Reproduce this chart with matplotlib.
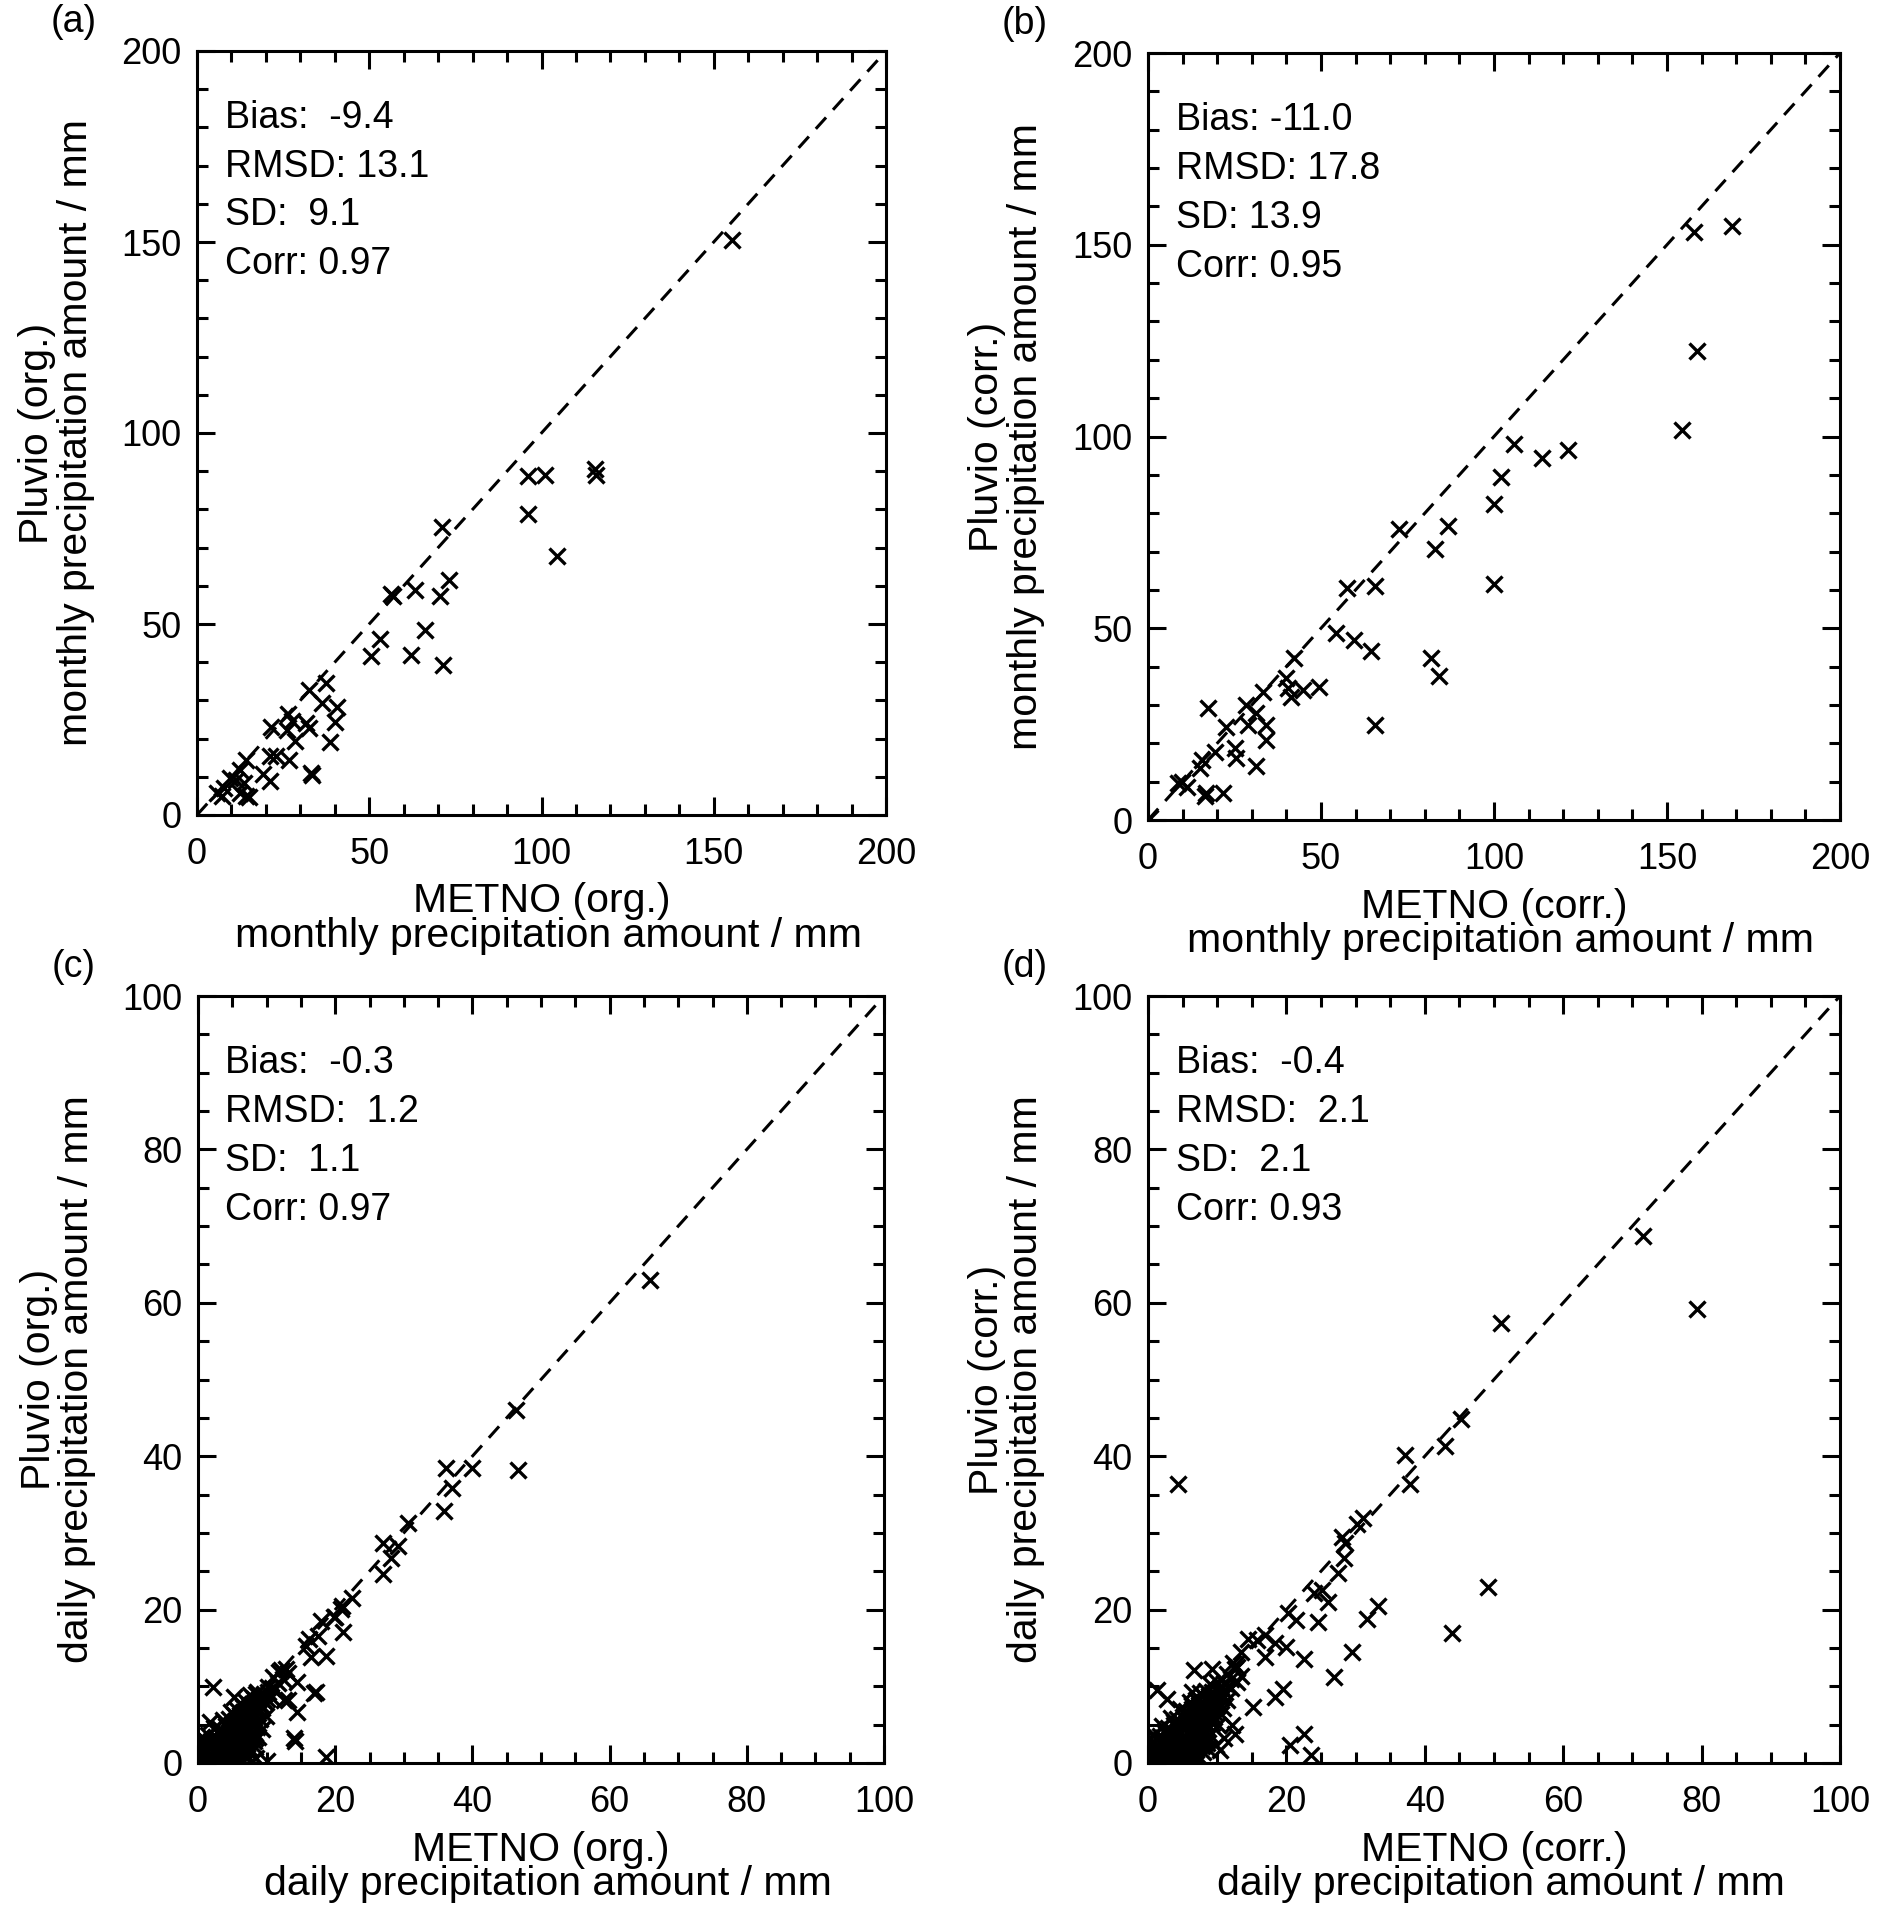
import numpy as np
import matplotlib.pyplot as plt
from matplotlib.ticker import MultipleLocator

plt.rcParams['font.family'] = ['Liberation Sans', 'DejaVu Sans']

# ---- data (METNO, Pluvio) ----
# (a) monthly, original
a_pts = [(155.4, 150.6), (115.5, 90.6), (115.8, 89.0), (96.2, 88.7), (101.1, 89.0),
         (96.2, 78.7), (104.5, 67.7), (71.1, 75.3), (73.1, 61.6), (70.4, 57.2),
         (63.4, 58.8), (56.3, 57.9), (56.8, 57.3), (66.3, 48.3), (62.1, 42.0),
         (71.4, 39.2), (53.2, 46.1), (50.5, 41.5), (37.4, 34.6), (32.5, 32.8),
         (36.2, 29.3), (40.6, 28.2), (40.1, 24.3), (38.6, 19.0), (31.5, 24.0),
         (32.5, 22.8), (26.5, 26.5), (27.7, 24.5), (26.2, 22.3), (28.4, 19.3),
         (21.4, 23.0), (21.2, 15.5), (22.8, 15.5), (26.7, 14.3), (33.0, 11.0),
         (33.4, 10.6), (19.2, 10.7), (21.2, 8.8), (14.1, 14.3), (12.6, 11.9),
         (9.5, 9.7), (11.2, 9.2), (7.8, 7.1), (13.6, 8.4), (7.3, 5.1),
         (14.1, 5.1), (15.0, 4.7), (12.6, 5.8), (5.8, 5.8)]

# (b) monthly, corrected
b_pts = [(157.8, 153.2), (168.8, 154.8), (158.6, 122.2), (154.3, 101.8), (105.7, 98.0),
         (113.8, 94.3), (121.5, 96.6), (101.9, 89.5), (99.9, 82.3), (99.9, 61.5),
         (72.4, 76.0), (86.7, 76.7), (82.9, 70.6), (57.6, 60.4), (65.7, 60.9),
         (54.3, 48.7), (59.5, 47.0), (64.5, 44.1), (81.8, 42.2), (84.2, 37.6),
         (65.6, 24.8), (42.3, 42.2), (39.9, 37.0), (41.3, 32.2), (40.4, 34.3),
         (44.7, 33.9), (49.5, 34.6), (33.2, 33.5), (28.4, 30.0), (28.9, 24.8),
         (31.3, 27.8), (34.2, 24.8), (34.2, 20.9), (31.3, 14.1), (25.1, 18.7),
         (25.5, 16.1), (17.4, 29.1), (22.5, 24.3), (19.3, 17.8), (15.5, 15.7),
         (15.0, 13.5), (9.8, 10.0), (8.8, 9.6), (11.2, 8.7), (16.9, 7.0),
         (21.7, 7.1), (16.4, 6.2), (0.5, 0.5)]

# (c) daily, original
c_pts = [(65.9, 63.0), (46.4, 46.0), (46.6, 38.2), (36.1, 38.4), (37.0, 35.8),
         (40.0, 38.4), (35.9, 32.9), (30.6, 31.3), (29.1, 28.3), (26.9, 28.7),
         (28.2, 26.7), (26.9, 24.7), (22.5, 21.5), (20.8, 20.1), (19.9, 19.1),
         (21.2, 17.1), (19.8, 19.0), (16.2, 16.2), (15.7, 15.3), (16.4, 13.8),
         (18.6, 14.0), (12.1, 12.1), (13.1, 11.7), (11.0, 11.2), (14.5, 10.6),
         (16.9, 9.1), (12.6, 8.2), (14.5, 6.7), (14.0, 3.2), (14.2, 2.9),
         (18.6, 0.8), (2.2, 9.9), (1.7, 5.4), (5.3, 8.6), (9.5, 8.2),
         (8.5, 9.0), (13.1, 8.2), (10.2, 9.9), (17.2, 9.3), (8.3, 2.1),
         (8.4, 0.7), (7.5, 1.6), (10.0, 0.3), (17.5, 16.5), (18.0, 18.5),
         (21.0, 20.5)]
# dense heap near the origin of (c), estimated
c_cluster = [(0.3, 0.2), (0.9, 0.4), (1.6, 0.3), (2.4, 0.5), (3.1, 0.2), (3.9, 0.4),
             (4.6, 0.3), (5.4, 0.5), (6.2, 0.2), (7.0, 0.6), (0.2, 1.3), (1.1, 1.4),
             (1.9, 1.2), (2.7, 1.5), (3.5, 1.3), (4.3, 1.6), (5.1, 1.2), (5.9, 1.4),
             (6.7, 1.7), (7.6, 1.3), (0.4, 2.4), (1.3, 2.6), (2.2, 2.3), (3.0, 2.7),
             (3.8, 2.4), (4.7, 2.6), (5.5, 2.2), (6.4, 2.8), (7.2, 2.5), (8.1, 2.9),
             (0.6, 3.4), (1.5, 3.6), (2.5, 3.3), (3.4, 3.7), (4.2, 3.5), (5.1, 3.8),
             (6.0, 3.4), (6.9, 3.9), (7.8, 3.6), (2.3, 4.6), (3.2, 4.4), (4.1, 4.8),
             (5.0, 4.5), (5.9, 4.9), (6.8, 4.6), (7.7, 5.0), (8.6, 4.7), (3.6, 5.6),
             (4.5, 5.8), (5.4, 5.5), (6.3, 5.9), (7.2, 5.7), (8.1, 6.1), (9.0, 5.8),
             (4.8, 6.7), (5.7, 6.9), (6.6, 6.6), (7.5, 7.0), (8.4, 6.8), (9.3, 7.2),
             (6.1, 7.8), (7.0, 8.0), (7.9, 7.7), (8.8, 8.2), (9.7, 7.9), (10.6, 8.6),
             (7.6, 8.9), (8.6, 9.2), (9.6, 9.0), (10.8, 9.8), (11.6, 10.4), (12.4, 11.0),
             (11.8, 11.8), (12.9, 12.3), (0.1, 0.8), (0.1, 1.9), (0.2, 3.0), (8.8, 3.4),
             (9.4, 4.4), (9.9, 6.1), (4.0, 0.0), (7.8, 0.2),
             (0.6, 0.9), (1.4, 0.8), (2.1, 0.9), (2.9, 1.0), (3.6, 0.8), (4.4, 1.0),
             (5.2, 0.8), (6.0, 0.9), (6.8, 1.1), (0.8, 1.9), (1.6, 2.0), (2.5, 1.9),
             (3.3, 2.1), (4.1, 1.9), (4.9, 2.1), (5.8, 1.9), (6.6, 2.2), (7.4, 2.0),
             (1.0, 3.0), (1.9, 2.9), (2.8, 3.1), (3.7, 2.9), (4.6, 3.1), (5.5, 2.9),
             (6.4, 3.2), (7.3, 3.1), (8.3, 3.2), (2.8, 4.0), (3.7, 4.1), (4.6, 4.0),
             (5.5, 4.2), (6.4, 4.0), (7.3, 4.3), (8.2, 4.1), (4.0, 5.2), (4.9, 5.1),
             (5.8, 5.3), (6.7, 5.1), (7.6, 5.4), (8.5, 5.3), (5.2, 6.3), (6.1, 6.2),
             (7.0, 6.4), (7.9, 6.2), (8.8, 6.5), (6.5, 7.3), (7.4, 7.5), (8.3, 7.3),
             (9.2, 7.6), (10.1, 8.3), (8.1, 8.4), (9.1, 8.7), (10.2, 9.3), (11.2, 9.6)]

# (d) daily, corrected
d_pts = [(71.6, 68.7), (79.4, 59.2), (51.0, 57.4), (45.3, 44.8), (42.9, 41.3),
         (37.2, 40.1), (37.9, 36.4), (4.4, 36.4), (31.1, 31.9), (30.2, 31.1),
         (28.0, 29.5), (28.4, 28.7), (28.3, 26.7), (27.5, 24.8), (49.2, 23.0),
         (44.0, 16.9), (33.3, 20.5), (31.7, 18.8), (29.5, 14.5), (26.9, 11.2),
         (24.0, 22.1), (25.2, 22.5), (26.0, 21.0), (24.6, 18.4), (21.4, 18.6),
         (20.2, 19.5), (22.6, 13.5), (20.0, 15.1), (18.3, 15.6), (16.9, 16.7),
         (15.7, 16.0), (16.9, 13.8), (19.5, 9.7), (18.3, 8.6), (15.2, 7.3),
         (6.6, 12.1), (9.2, 12.3), (12.3, 13.0), (12.8, 12.5), (1.3, 9.5),
         (2.7, 8.4), (6.3, 9.3), (22.6, 3.8), (20.5, 2.3), (23.6, 1.0),
         (12.6, 3.8), (10.4, 1.7), (14.5, 16.2), (13.5, 14.5)]
# dense heap near the origin of (d), estimated
d_cluster = [(0.3, 0.3), (1.0, 0.2), (1.8, 0.5), (2.6, 0.3), (3.4, 0.6), (4.2, 0.2),
             (5.0, 0.4), (5.8, 0.7), (6.6, 0.3), (7.4, 0.5), (0.2, 1.4), (1.1, 1.2),
             (1.9, 1.5), (2.8, 1.3), (3.6, 1.6), (4.5, 1.2), (5.3, 1.5), (6.1, 1.3),
             (7.0, 1.7), (7.9, 1.4), (8.7, 1.8), (0.4, 2.6), (1.3, 2.4), (2.2, 2.7),
             (3.1, 2.5), (4.0, 2.8), (4.9, 2.4), (5.8, 2.7), (6.7, 2.5), (7.6, 2.9),
             (8.5, 2.6), (0.8, 3.7), (1.7, 3.5), (2.6, 3.8), (3.5, 3.6), (4.4, 3.9),
             (5.3, 3.5), (6.2, 3.8), (7.1, 3.6), (8.0, 4.0), (9.0, 3.7), (2.0, 4.8),
             (2.9, 4.6), (3.8, 4.9), (4.7, 4.7), (5.6, 5.0), (6.5, 4.6), (7.4, 5.0),
             (8.3, 4.8), (9.2, 5.2), (10.1, 4.9), (3.3, 5.9), (4.2, 5.7), (5.1, 6.0),
             (6.0, 5.8), (6.9, 6.1), (7.8, 5.9), (8.7, 6.2), (9.6, 6.0), (10.5, 6.4),
             (4.6, 7.0), (5.5, 6.8), (6.4, 7.1), (7.3, 6.9), (8.2, 7.2), (9.1, 7.0),
             (10.0, 7.4), (10.9, 7.2), (6.0, 8.0), (6.9, 8.2), (7.8, 7.9), (8.7, 8.3),
             (9.6, 8.1), (10.5, 8.5), (11.4, 8.2), (7.5, 9.1), (8.4, 9.4), (9.3, 9.2),
             (10.2, 9.6), (11.1, 9.3), (12.0, 9.8), (9.0, 10.3), (10.0, 10.6),
             (11.0, 10.4), (12.0, 11.0), (12.8, 10.6), (11.4, 11.6), (12.6, 12.2),
             (13.4, 11.4), (0.1, 0.9), (0.1, 2.0), (0.2, 3.2), (9.8, 2.4), (11.0, 3.2),
             (12.2, 5.0),
             (0.7, 0.8), (1.5, 0.9), (2.3, 1.0), (3.1, 0.9), (3.9, 1.1), (4.7, 0.8),
             (5.5, 1.0), (6.3, 0.9), (7.1, 1.1), (0.8, 2.0), (1.6, 1.9), (2.5, 2.1),
             (3.4, 1.9), (4.3, 2.2), (5.1, 2.0), (6.0, 2.1), (6.9, 2.0), (7.8, 2.2),
             (1.2, 3.1), (2.1, 3.2), (3.0, 3.0), (3.9, 3.3), (4.8, 3.1), (5.7, 3.2),
             (6.6, 3.1), (7.5, 3.4), (8.4, 3.2), (2.4, 4.2), (3.3, 4.3), (4.2, 4.1),
             (5.1, 4.4), (6.0, 4.2), (6.9, 4.3), (7.8, 4.1), (8.7, 4.4), (3.7, 5.4),
             (4.6, 5.3), (5.5, 5.5), (6.4, 5.3), (7.3, 5.6), (8.2, 5.4), (9.1, 5.7),
             (5.0, 6.5), (5.9, 6.4), (6.8, 6.6), (7.7, 6.4), (8.6, 6.7), (9.5, 6.6),
             (6.4, 7.6), (7.3, 7.5), (8.2, 7.7), (9.1, 7.6), (10.0, 7.9), (7.9, 8.7),
             (8.8, 8.8), (9.7, 8.6), (10.6, 9.0), (10.6, 9.9), (11.5, 10.0)]

labels = ['(a)', '(b)', '(c)', '(d)']
x_lab1 = ['METNO (org.)', 'METNO (corr.)', 'METNO (org.)', 'METNO (corr.)']
y_lab1 = ['Pluvio (org.)', 'Pluvio (corr.)', 'Pluvio (org.)', 'Pluvio (corr.)']
lab2 = ['monthly precipitation amount / mm', 'monthly precipitation amount / mm',
        'daily precipitation amount / mm', 'daily precipitation amount / mm']
stats = [['Bias:  -9.4', 'RMSD: 13.1', 'SD:  9.1', 'Corr: 0.97'],
         ['Bias: -11.0', 'RMSD: 17.8', 'SD: 13.9', 'Corr: 0.95'],
         ['Bias:  -0.3', 'RMSD:  1.2', 'SD:  1.1', 'Corr: 0.97'],
         ['Bias:  -0.4', 'RMSD:  2.1', 'SD:  2.1', 'Corr: 0.93']]
limits = [200, 200, 100, 100]
major = [50, 50, 20, 20]
minor = [10, 10, 5, 5]

datasets = [a_pts, b_pts, c_pts + c_cluster, d_pts + d_cluster]

W, H = 1892, 1921
fig = plt.figure(figsize=(W / 100, H / 100), dpi=100)

# axes boxes in pixels: left, right, top, bottom
boxes = [(197, 886, 51, 815), (1148, 1840, 53, 820),
         (198, 884, 996, 1763), (1148, 1840, 996, 1763)]

FS_TICK = 26
FS_STAT = 27
FS_LAB = 29.5
for i, (l, r, t, b) in enumerate(boxes):
    ax = fig.add_axes([l / W, 1 - b / H, (r - l) / W, (b - t) / H])
    pts = np.array(datasets[i])
    lim = limits[i]
    ax.plot([0, lim], [0, lim], ls=(0, (5, 3.4)), color='black', lw=2.2)
    ax.plot(pts[:, 0], pts[:, 1], 'x', color='black', ms=12, mew=2.4)
    ax.set_xlim(0, lim)
    ax.set_ylim(0, lim)
    ax.xaxis.set_major_locator(MultipleLocator(major[i]))
    ax.yaxis.set_major_locator(MultipleLocator(major[i]))
    ax.xaxis.set_minor_locator(MultipleLocator(minor[i]))
    ax.yaxis.set_minor_locator(MultipleLocator(minor[i]))
    ax.tick_params(which='both', direction='in', top=True, right=True, width=2.2)
    ax.tick_params(which='major', length=13, labelsize=FS_TICK)
    ax.tick_params(which='minor', length=8)
    ax.tick_params(axis='x', which='major', pad=16)
    ax.tick_params(axis='y', which='major', pad=11)
    for s in ax.spines.values():
        s.set_linewidth(2.2)

    for k, line in enumerate(stats[i]):
        ax.text(0.04, 0.912 - k * 0.0635, line, transform=ax.transAxes,
                fontsize=FS_STAT, va='center', ha='left')

    ax.text(0.5, -0.113, x_lab1[i], transform=ax.transAxes, fontsize=FS_LAB,
            ha='center', va='center')
    ax.text(0.51, -0.158, lab2[i], transform=ax.transAxes, fontsize=FS_LAB,
            ha='center', va='center')
    ax.text(-0.232, 0.5, y_lab1[i], transform=ax.transAxes, fontsize=FS_LAB,
            ha='center', va='center', rotation=90)
    ax.text(-0.176, 0.5, lab2[i], transform=ax.transAxes, fontsize=FS_LAB,
            ha='center', va='center', rotation=90)

    fig.text((l - 146) / W, 1 - (t - 29) / H, labels[i], fontsize=FS_STAT,
             ha='left', va='center')

fig.savefig('out.png', dpi=100)
